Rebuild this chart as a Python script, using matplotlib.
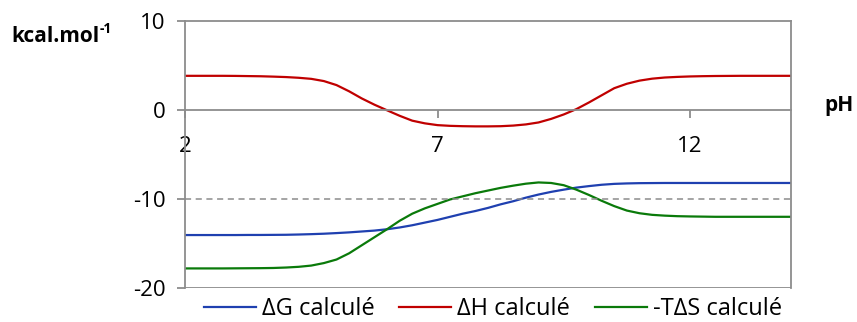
import matplotlib.pyplot as plt
import numpy as np

# valeurs (pas de 0.25 en pH)
pH = [2.0, 2.25, 2.5, 2.75, 3.0, 3.25, 3.5, 3.75, 4.0, 4.25, 4.5, 4.75,
      5.0, 5.25, 5.5, 5.75, 6.0, 6.25, 6.5, 6.75, 7.0, 7.25, 7.5, 7.75,
      8.0, 8.25, 8.5, 8.75, 9.0, 9.25, 9.5, 9.75, 10.0, 10.25, 10.5, 10.75,
      11.0, 11.25, 11.5, 11.75, 12.0, 12.25, 12.5, 12.75, 13.0, 13.25, 13.5, 13.75, 14.0]
dG = [-14.05, -14.05, -14.05, -14.05, -14.05, -14.04, -14.04, -14.03, -14.02, -13.99, -13.95, -13.9,
      -13.83, -13.75, -13.65, -13.55, -13.4, -13.2, -12.95, -12.65, -12.35, -12.0, -11.65, -11.35,
      -11.0, -10.6, -10.25, -9.85, -9.5, -9.2, -8.95, -8.72, -8.55, -8.4, -8.3, -8.25,
      -8.22, -8.21, -8.2, -8.2, -8.2, -8.2, -8.2, -8.2, -8.2, -8.2, -8.2, -8.2, -8.2]
dH = [3.84, 3.84, 3.84, 3.84, 3.83, 3.81, 3.79, 3.75, 3.70, 3.62, 3.5, 3.25,
      2.8, 2.1, 1.3, 0.6, -0.03, -0.65, -1.2, -1.5, -1.7, -1.78, -1.82, -1.84,
      -1.84, -1.82, -1.75, -1.62, -1.4, -1.0, -0.5, 0.1, 0.85, 1.65, 2.45, 2.95,
      3.3, 3.52, 3.65, 3.72, 3.77, 3.8, 3.82, 3.83, 3.84, 3.84, 3.84, 3.84, 3.84]
mTdS = [-17.8, -17.8, -17.8, -17.8, -17.79, -17.78, -17.77, -17.75, -17.7, -17.62, -17.48, -17.2,
        -16.8, -16.1, -15.2, -14.3, -13.4, -12.45, -11.65, -11.05, -10.55, -10.05, -9.7, -9.35,
        -9.05, -8.75, -8.5, -8.28, -8.14, -8.2, -8.45, -8.95, -9.55, -10.2, -10.8, -11.3,
        -11.6, -11.78, -11.87, -11.93, -11.96, -11.98, -12.0, -12.0, -12.0, -12.0, -12.0, -12.0, -12.0]

bleu = '#1F40B0'
rouge = '#C00000'
vert = '#0A7A0A'
gris = '#8C8C8C'

plt.rcParams['font.family'] = ['Open Sans', 'DejaVu Sans']
plt.rcParams['axes.unicode_minus'] = False

fig = plt.figure(figsize=(8.57, 3.22), dpi=100)
ax = fig.add_axes([185/857, 1-288/322, (791-185)/857, (288-21)/322])

ax.plot(pH, dG, color=bleu, lw=1.6, label='ΔG calculé')
ax.plot(pH, dH, color=rouge, lw=1.6, label='ΔH calculé')
ax.plot(pH, mTdS, color=vert, lw=1.6, label='-TΔS calculé')

ax.set_xlim(2, 14)
ax.set_ylim(-20, 10)

# axe des x sur la ligne y = 0
ax.spines['bottom'].set_position(('data', 0))
for s in ['bottom', 'left', 'right', 'top']:
    ax.spines[s].set_color(gris)
    ax.spines[s].set_linewidth(1.3)
ax.axhline(-20, color=gris, lw=1.3)
ax.axhline(-10, color=gris, lw=1.1, ls=(0, (4, 3)))

ax.set_xticks([2, 7, 12])
ax.set_yticks([10, 0, -10, -20])
ax.tick_params(axis='x', direction='out', length=6, width=1.3, color=gris, pad=13, labelsize=16)
ax.tick_params(axis='y', direction='out', length=6, width=1.3, color=gris, pad=8, labelsize=16)

# titre de l'axe y avec exposant
t = fig.text(11/857, 1-42/322, 'kcal.mol', fontsize=15, fontweight='bold', va='baseline')
fig.canvas.draw()
bb = t.get_window_extent()
fig.text(bb.x1/857 + 0.001, 1-33/322, '-1', fontsize=10, fontweight='bold', va='baseline')
fig.text(824/857, 1-111/322, 'pH', fontsize=15, fontweight='bold', va='baseline')

fig.legend(loc='center', bbox_to_anchor=(493/857, 1-309/322), ncol=3, frameon=False,
           fontsize=17, handlelength=2.2, columnspacing=1.05, handletextpad=0.25)

plt.savefig('out.png', dpi=100)
